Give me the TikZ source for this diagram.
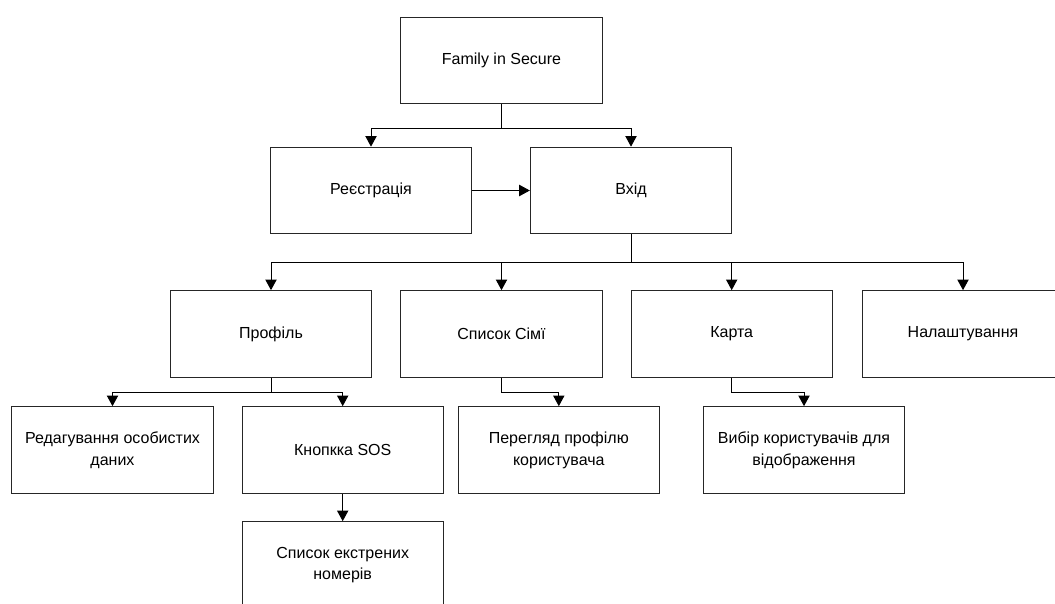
\documentclass[tikz,border=0pt]{standalone}
\usepackage{fontspec}
\setmainfont{Liberation Sans}
\usetikzlibrary{arrows.meta}
\tikzset{
    block/.style={draw=black!85, line width=0.75pt, fill=white, align=center,
        minimum width=151pt, minimum height=65pt, inner sep=2pt,
        font=\fontsize{12}{16.3}\selectfont},
    link/.style={draw=black, line width=0.75pt, -{Triangle[width=8.5pt,length=8pt]}}
}
\begin{document}
\begin{tikzpicture}[x=0.75pt,y=-0.75pt]
        \useasboundingbox (0,0) rectangle (1055,603);
        % top level
        \node[block] (fam) at (501.5,60.5) {Family in Secure};
        \node[block] (reg) at (371,190.5) {Реєстрація};
        \node[block] (vhid) at (631,190.5) {Вхід};
        % second level
        \node[block] (prof) at (271,334) {Профіль};
        \node[block] (sim) at (501.5,334) {Список Сімї};
        \node[block] (karta) at (731.7,334) {Карта};
        \node[block] (nal) at (963,334) {Налаштування};
        % third level
        \node[block] (red) at (112.5,450) {Редагування особистих\\даних};
        \node[block] (sos) at (342.7,450) {Кнопкка SOS};
        \node[block] (perg) at (558.8,450) {Перегляд профілю\\користувача};
        \node[block] (vybir) at (804,450) {Вибір користувачів для\\відображення};
        \node[block] (ekstr) at (342.7,565) {Список екстрених\\номерів};
        %
        \foreach \t in {reg,vhid}
            \draw[link] (fam.south) -- ++(0,24.5) -| (\t.north);
        \draw[link] (reg.east) -- (vhid.west);
        \foreach \t in {prof,sim,karta,nal}
            \draw[link] (vhid.south) -- ++(0,28) -| (\t.north);
        \foreach \t in {red,sos}
            \draw[link] (prof.south) -- ++(0,14.4) -| (\t.north);
        \draw[link] (sim.south) -- ++(0,14.4) -| (perg.north);
        \draw[link] (karta.south) -- ++(0,14.4) -| (vybir.north);
        \draw[link] (sos.south) -- (ekstr.north);
    \end{tikzpicture}
\end{document}
